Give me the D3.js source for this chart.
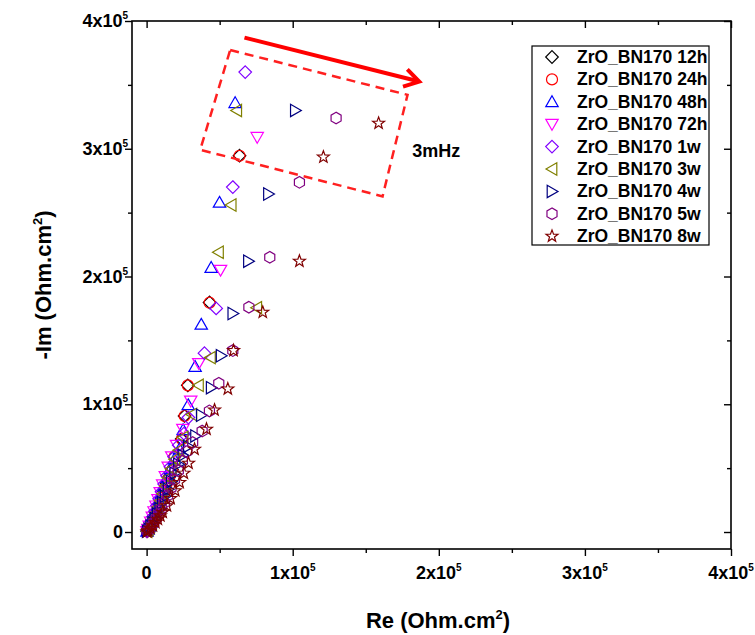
<!DOCTYPE html>
<html><head><meta charset="utf-8">
<script src="https://cdn.jsdelivr.net/npm/d3@7"></script>
<style>
html,body{margin:0;padding:0;background:#fff;}
svg{display:block;font-family:"Liberation Sans",Arial,sans-serif;font-weight:bold;}
</style></head>
<body>
<svg id="chart" width="755" height="635"></svg>
<script>
// ---- data (Re, -Im) in units of 1e3 Ohm.cm2 ----
const seriesNames = ["ZrO_BN170 12h","ZrO_BN170 24h","ZrO_BN170 48h","ZrO_BN170 72h","ZrO_BN170 1w","ZrO_BN170 3w","ZrO_BN170 4w","ZrO_BN170 5w","ZrO_BN170 8w"];
const seriesColors = ["#000000","#FF0000","#0000FF","#FF00FF","#8000FF","#808000","#000080","#800080","#800000"];
const seriesShapes = ["diamond","circle","triUp","triDown","diamond","triLeft","triRight","hexagon","star"];

const s12h = [[0.3,0.5],[1.1,2],[2.1,4],[3.2,6.6],[4.4,9.6],[5.7,13.1],[7.1,17.1],[8.6,21.6],[10.2,26.6],[11.9,32],[13.7,38],[15.5,43.2],[17.4,48.8],[19,59],[24,72.8],[26,90.9],[28.2,114.8],[43.1,179.7],[63.6,294.6]];
const s24h = [[0.3,0.5],[1.2,2],[2.2,4],[3.3,6.5],[4.5,9.5],[5.8,13],[7.2,17],[8.7,21.5],[10.3,26.5],[12,32],[13.8,38],[15.6,43],[17.5,48.7],[19.1,59.1],[24.1,72.7],[26,90.8],[28.2,114.8],[43.1,179.5],[63.6,294.5]];
const s48h = [[0.3,0.6],[1,2],[2,4.5],[3,7.5],[4.2,11],[5.5,15],[7,19.5],[8.5,24.5],[10.2,30],[12,36],[14,42.5],[16.2,49.5],[19,57],[22.5,65],[25,80],[28.5,99.5],[33.2,129.5],[37.4,162.5],[44.2,207],[49.9,258],[60.6,336]];
const s72h = [[0.2,0.5],[0.9,2.2],[1.8,4.8],[2.8,8],[3.9,11.8],[5.1,16],[6.4,20.5],[7.8,25.5],[9.3,31],[11,37],[12.8,43.5],[14.8,51],[17.2,59],[20.5,68],[24.8,80.5],[30.2,102.6],[35.7,132],[50.6,205],[75.7,309]];
const s1w  = [[0.3,0.7],[1.1,2.5],[2.1,5],[3.2,8.2],[4.4,12],[5.7,16.2],[7.1,20.8],[8.6,26],[10.2,31.5],[12,37.5],[14,44],[16.3,51],[19,59],[22,68],[25.5,77],[28.6,89.6],[39.6,140],[47.6,175],[59,270],[67.5,360]];
const s3w  = [[0.3,0.5],[1.2,2.2],[2.3,4.6],[3.5,7.5],[4.8,11],[6.2,15],[7.7,19.5],[9.3,24.5],[11,30],[12.8,36],[14.7,42.5],[16.8,49.5],[19.3,57],[22,64],[25,74],[31,92],[35.5,114.8],[43.7,136.5],[75.4,175.5],[49.2,219],[57.9,256],[61.7,330]];
const s4w  = [[0.4,0.5],[1.5,2.2],[2.8,4.5],[4.2,7.3],[5.7,10.5],[7.3,14.2],[9,18.3],[10.8,23],[12.7,28],[14.7,33.5],[16.9,39.5],[19.2,46],[21.8,53],[24.8,60],[28.5,67],[33.5,75.2],[37.4,91.4],[44.2,113],[51,138],[59,171],[69.7,212],[83.4,264.6],[101.8,330]];
const s5w  = [[0.5,0.5],[1.8,2.2],[3.3,4.5],[4.9,7.3],[6.6,10.5],[8.4,14.2],[10.3,18.3],[12.3,23],[14.4,28.5],[16.7,34.5],[19.1,41],[21.7,48],[24.5,55.5],[27.6,63],[31.5,70],[38,79],[43,94.8],[49.4,116.4],[59,142],[70,176],[84.3,215],[104.6,273.7],[129.7,324]];
const s8w  = [[0.3,0.3],[1,1],[2.6,3],[4.3,5],[6,7.5],[7.7,10],[9.4,12.7],[11,15.4],[13.9,20.5],[16.4,26.3],[19.6,32.3],[22.6,38.8],[25.5,46.1],[28.7,53.9],[32.8,64.8],[41,80.5],[46.5,95.5],[55.6,112],[59.5,142],[79.5,172],[104.6,212],[121,293.5],[158.8,320]];
const seriesData = [s12h,s24h,s48h,s72h,s1w,s3w,s4w,s5w,s8w];

const xTicks = [0,100000,200000,300000,400000];
const yTicks = [0,100000,200000,300000,400000];
const tickMantissa = ["0","1x10","2x10","3x10","4x10"];
const tickExponent = ["","5","5","5","5"];

// annotations (data units, 1e3)
const boxCorners = [[57.2,377.3],[178.6,342.2],[161.5,262.7],[36.7,299.2]];
const arrowStart = [67,387];
const arrowEnd = [186.6,352.6];
const noteText = "3mHz";
const notePos = [181.8,293.5];

// ---- layout ----
const svg = d3.select("#chart");
const L = 132, R = 731, T = 21, B = 549;
const x = d3.scaleLinear().domain([-10000, 400000]).range([L, R]);
const y = d3.scaleLinear().domain([-13300, 400000]).range([B, T]);
const K = 1000;

// frame
svg.append("rect").attr("x",L).attr("y",T).attr("width",R-L).attr("height",B-T)
  .attr("fill","none").attr("stroke","#000").attr("stroke-width",1.6);

const minor = d3.range(0, 400001, 50000).filter(v => v % 100000 !== 0);
function axisDraw(axisFn, scale, translate, inward){
  const sz = inward ? -1 : 1;
  const gMaj = svg.append("g").attr("transform", translate)
    .call(axisFn(scale).tickValues(xTicks).tickFormat("").tickSize(7*sz).tickSizeOuter(0));
  const gMin = svg.append("g").attr("transform", translate)
    .call(axisFn(scale).tickValues(minor).tickFormat("").tickSize(4*sz).tickSizeOuter(0));
  [gMaj,gMin].forEach(g=>{ g.select(".domain").remove(); g.selectAll("line").attr("stroke","#000").attr("stroke-width",1.4); });
}
axisDraw(d3.axisBottom, x, `translate(0,${B})`, false);
axisDraw(d3.axisTop, x, `translate(0,${T})`, true);
axisDraw(d3.axisLeft, y, `translate(${L},0)`, false);
axisDraw(d3.axisRight, y, `translate(${R},0)`, true);

// tick labels
xTicks.forEach((v,i)=>{
  const t = svg.append("text").attr("x", x(v)).attr("y", 579).attr("text-anchor","middle")
    .attr("font-size",18).attr("fill","#000");
  t.append("tspan").text(tickMantissa[i]);
  if (tickExponent[i]) t.append("tspan").attr("dy",-8).attr("font-size",10).text(tickExponent[i]);
});
yTicks.forEach((v,i)=>{
  const t = svg.append("text").attr("x", 128).attr("y", y(v)+6).attr("text-anchor","end")
    .attr("font-size",18).attr("fill","#000");
  t.append("tspan").text(tickMantissa[i]);
  if (tickExponent[i]) t.append("tspan").attr("dy",-8).attr("font-size",10).text(tickExponent[i]);
  else t.attr("x",123);
});

// axis titles
const xt = svg.append("text").attr("x", 438).attr("y", 628).attr("text-anchor","middle").attr("font-size",22);
xt.append("tspan").text("Re (Ohm.cm");
xt.append("tspan").attr("dy",-9).attr("font-size",13).text("2");
xt.append("tspan").attr("dy",9).text(")");
const yt = svg.append("text").attr("transform","translate(51,285) rotate(-90)").attr("text-anchor","middle").attr("font-size",22);
yt.append("tspan").text("-Im (Ohm.cm");
yt.append("tspan").attr("dy",-9).attr("font-size",13).text("2");
yt.append("tspan").attr("dy",9).text(")");

// shapes
function shapePath(type){
  let pts;
  switch(type){
    case "diamond": pts=[[0,-6.3],[6.3,0],[0,6.3],[-6.3,0]]; break;
    case "triUp": pts=[[0,-6],[6.2,4.8],[-6.2,4.8]]; break;
    case "triDown": pts=[[0,6],[6.2,-4.8],[-6.2,-4.8]]; break;
    case "triLeft": pts=[[-6,0],[4.8,-6.2],[4.8,6.2]]; break;
    case "triRight": pts=[[6,0],[-4.8,-6.2],[-4.8,6.2]]; break;
    case "hexagon": pts=d3.range(6).map(k=>{const a=Math.PI/2+k*Math.PI/3; return [5.8*Math.cos(a),-5.8*Math.sin(a)];}); break;
    case "star": pts=d3.range(10).map(k=>{const a=-Math.PI/2+k*Math.PI/5; const r=k%2?2.6:6.3; return [r*Math.cos(a),r*Math.sin(a)];}); break;
    case "circle": return d3.arc()({innerRadius:0,outerRadius:5.5,startAngle:0,endAngle:2*Math.PI});
  }
  return "M"+pts.map(p=>p.join(",")).join("L")+"Z";
}

// data points
seriesData.forEach((data,si)=>{
  svg.append("g").selectAll("path").data(data).join("path")
    .attr("d", shapePath(seriesShapes[si]))
    .attr("transform", d=>`translate(${x(d[0]*K)},${y(d[1]*K)})`)
    .attr("fill","none").attr("stroke", seriesColors[si]).attr("stroke-width",1.2);
});

// annotation box
svg.append("path")
  .attr("d", "M"+boxCorners.map(c=>[x(c[0]*K),y(c[1]*K)].join(",")).join("L")+"Z")
  .attr("fill","none").attr("stroke","#FF2020").attr("stroke-width",2.5).attr("stroke-dasharray","9,6");
// arrow
const ax0=x(arrowStart[0]*K), ay0=y(arrowStart[1]*K), ax1=x(arrowEnd[0]*K), ay1=y(arrowEnd[1]*K);
svg.append("line").attr("x1",ax0).attr("y1",ay0).attr("x2",ax1-2).attr("y2",ay1-0.5)
  .attr("stroke","#FF0000").attr("stroke-width",4);
const ang = Math.atan2(ay1-ay0, ax1-ax0);
const hl = 17, hw = 0.55;
svg.append("path")
  .attr("d", `M${ax1-hl*Math.cos(ang-hw)},${ay1-hl*Math.sin(ang-hw)}L${ax1},${ay1}L${ax1-hl*Math.cos(ang+hw)},${ay1-hl*Math.sin(ang+hw)}`)
  .attr("fill","none").attr("stroke","#FF0000").attr("stroke-width",4).attr("stroke-linejoin","miter");
svg.append("text").attr("x", x(notePos[0]*K)).attr("y", y(notePos[1]*K)).attr("font-size",18).text(noteText);

// legend
const lg = svg.append("g");
lg.append("rect").attr("x",532).attr("y",46).attr("width",177).attr("height",199)
  .attr("fill","#fff").attr("stroke","#000").attr("stroke-width",1.2);
seriesNames.forEach((n,i)=>{
  const cy = 57 + i*22.4;
  lg.append("path").attr("d", shapePath(seriesShapes[i])).attr("transform",`translate(552,${cy})`)
    .attr("fill","none").attr("stroke",seriesColors[i]).attr("stroke-width",1.2);
  lg.append("text").attr("x",577).attr("y",cy+6).attr("font-size",17.5).text(n);
});
</script>
</body></html>
